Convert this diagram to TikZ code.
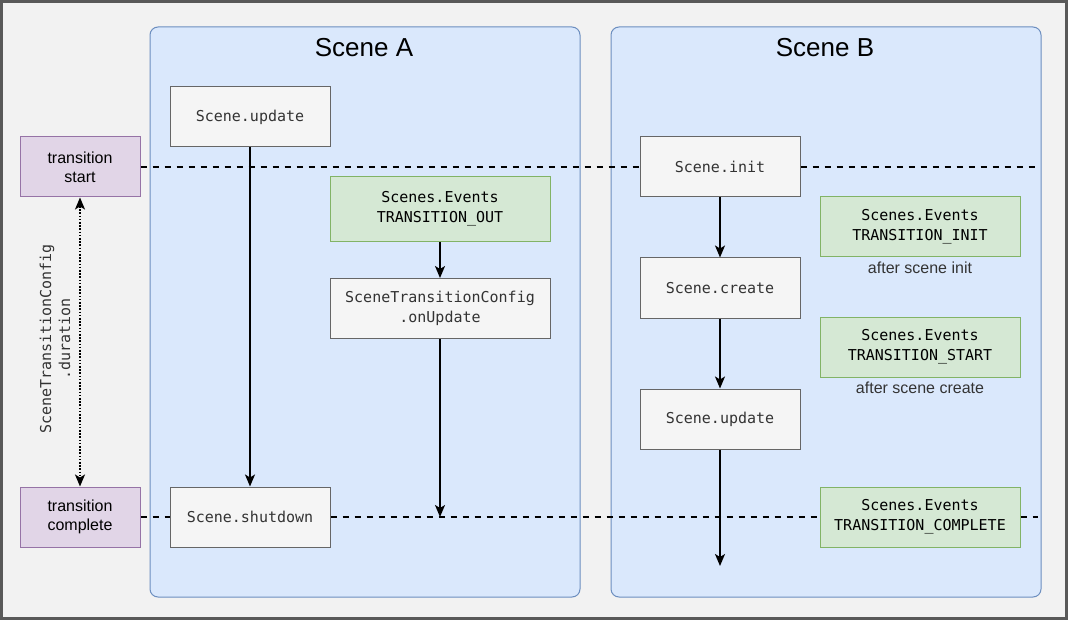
\documentclass[tikz,border=0pt]{standalone}
\usepackage{fontspec}
\setmainfont{Liberation Sans}
\setmonofont{DejaVu Sans Mono}
\usetikzlibrary{arrows.meta, positioning}

\definecolor{pagebg}{HTML}{F2F2F2}
\definecolor{pageline}{HTML}{595959}
\definecolor{scenefill}{HTML}{DAE8FC}
\definecolor{sceneline}{HTML}{6C8EBF}
\definecolor{grayfill}{HTML}{F5F5F5}
\definecolor{grayline}{HTML}{666666}
\definecolor{graytext}{HTML}{333333}
\definecolor{greenfill}{HTML}{D5E8D4}
\definecolor{greenline}{HTML}{82B366}
\definecolor{purplefill}{HTML}{E1D5E7}
\definecolor{purpleline}{HTML}{9673A6}

\begin{document}
\begin{tikzpicture}[
      x = 1pt, y = -1pt,                                  % one unit is one pixel, y goes down
      > = {Stealth[length=12pt, width=10pt, inset=3pt]},  % arrow head style
      line width = 1.6pt                                  % thicker arrows
    ]

    \tikzstyle{SC}=[      % Defines style for Scene container
      draw = sceneline,
      fill = scenefill,
      line width = 1pt,
      rounded corners = 8pt,
      minimum width = 430pt,
      minimum height = 570pt
    ]

    \tikzstyle{GB}=[      % Defines style for Gray box
      draw = grayline,
      fill = grayfill,
      line width = 1pt,
      text = graytext,
      align = center,
      inner sep = 0pt,
      font = \ttfamily\fontsize{15}{20}\selectfont,
      minimum width = 160pt,
      minimum height = 60pt
    ]

    \tikzstyle{EB}=[      % Defines style for Event box
      GB,
      draw = greenline,
      fill = greenfill,
      text = black,
      minimum width = 200pt
    ]

    \tikzstyle{PB}=[      % Defines style for Purple box
      GB,
      draw = purpleline,
      fill = purplefill,
      text = black,
      font = \fontsize{16}{19}\selectfont,
      minimum width = 120pt
    ]

    \tikzstyle{NB}=[      % Defines style for small notes
      text = graytext,
      font = \fontsize{16}{19}\selectfont
    ]

    \tikzstyle{TL}=[      % Defines style for time lines
      dash pattern = on 6pt off 6pt,
      line width = 2pt
    ]

    % Page
    \useasboundingbox (0,0) rectangle (1068,620);
    \draw[draw = pageline, fill = pagebg, line width = 3pt] (1.5,1.5) rectangle (1066.5,618.5);

    % Definition of the scenes
    \node[SC] (sceneA) at (365,312) {};
    \node[SC] (sceneB) at (826,312) {};
    \node[font = \fontsize{26}{30}\selectfont] (titleA) at (364,48) {Scene A};
    \node[font = \fontsize{26}{30}\selectfont] (titleB) at (825,48) {Scene B};

    % Definition of the nodes
    \node[PB] (tstart) at (80,167) {transition\\start};
    \node[PB] (tcomplete) at (80,517) {transition\\complete};

    \node[GB] (updA) at (250,117) {Scene.update};
    \node[GB] (shutdown) at (250,517) {Scene.shutdown};
    \node[EB, minimum width = 220pt, minimum height = 65pt] (evout) at (440,209) {Scenes.Events\\TRANSITION\_OUT};
    \node[GB, minimum width = 220pt] (onupd) [below=36pt of evout] {SceneTransitionConfig\\.onUpdate};

    \node[GB] (init) at (720,167) {Scene.init};
    \node[GB] (create) [below=60pt of init] {Scene.create};
    \node[GB] (updB) [below=70pt of create] {Scene.update};

    \node[EB] (evinit) at (920,227) {Scenes.Events\\TRANSITION\_INIT};
    \node[NB] (noteinit) [below=0pt of evinit] {after scene init};
    \node[EB] (evstart) at (920,347) {Scenes.Events\\TRANSITION\_START};
    \node[NB] (notestart) [below=0pt of evstart] {after scene create};
    \node[EB] (evcomp) at (920,517) {Scenes.Events\\TRANSITION\_COMPLETE};

    \node[text = graytext, rotate = 90, align = center,
          font = \ttfamily\fontsize{15}{19}\selectfont] (durlabel) at (55,339)
          {SceneTransitionConfig\\.duration};

    % Free ends
    \coordinate (topend) at (1035,167);
    \coordinate (botend) at (1038,517);
    \coordinate (onupdend) at (onupd |- tcomplete);
    \coordinate (updBend) at (720,566);

    % Definition of the edges
    \path[TL] (tstart) edge (init);
    \path[TL] (init) edge (topend);
    \path[TL] (tcomplete) edge (shutdown);
    \path[TL] (shutdown) edge (evcomp);
    \path[TL] (evcomp) edge (botend);

    \path[->] (updA) edge (shutdown);
    \path[->] (evout) edge (onupd);
    \path[->] (onupd) edge (onupdend);

    \path[->] (init) edge (create);
    \path[->] (create) edge (updB);
    \path[->] (updB) edge (updBend);

    \path[<->, dash pattern = on 1.6pt off 1.6pt] (tstart) edge (tcomplete);

  \end{tikzpicture}
\end{document}
